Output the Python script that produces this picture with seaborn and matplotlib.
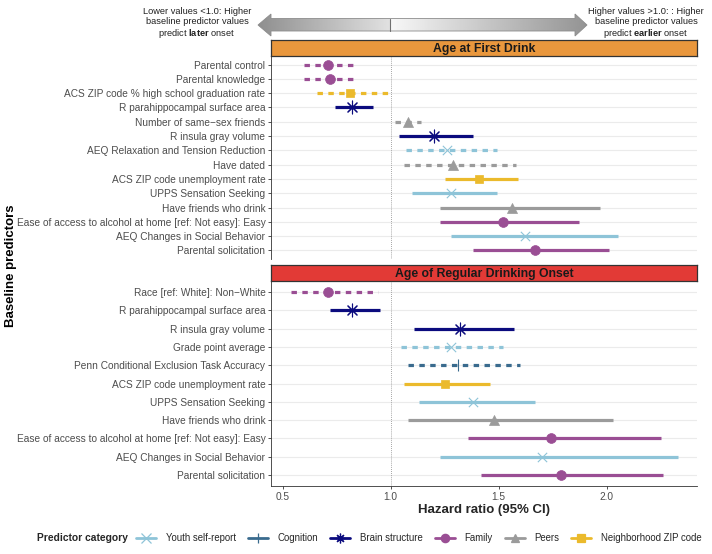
import numpy as np
import pandas as pd
import seaborn as sns
import matplotlib.pyplot as plt
from matplotlib.lines import Line2D
from matplotlib.patches import Polygon

# ---- data: hazard ratios ----
categories = ["Youth self-report", "Cognition", "Brain structure", "Family", "Peers", "Neighborhood ZIP code"]

# Age at First Drink
afd_predictors = [
    "Parental control", "Parental knowledge", "ACS ZIP code % high school graduation rate",
    "R parahippocampal surface area", "Number of same\u2212sex friends", "R insula gray volume",
    "AEQ Relaxation and Tension Reduction", "Have dated", "ACS ZIP code unemployment rate",
    "UPPS Sensation Seeking", "Have friends who drink",
    "Ease of access to alcohol at home [ref: Not easy]: Easy",
    "AEQ Changes in Social Behavior", "Parental solicitation",
]
afd_category = ["Family", "Family", "Neighborhood ZIP code", "Brain structure", "Peers", "Brain structure",
                "Youth self-report", "Peers", "Neighborhood ZIP code", "Youth self-report", "Peers",
                "Family", "Youth self-report", "Family"]
afd_hr = [0.71, 0.72, 0.81, 0.82, 1.08, 1.20, 1.26, 1.29, 1.41, 1.28, 1.56, 1.52, 1.62, 1.67]
afd_lo = [0.60, 0.60, 0.66, 0.74, 1.02, 1.04, 1.07, 1.06, 1.25, 1.10, 1.23, 1.23, 1.28, 1.38]
afd_hi = [0.85, 0.85, 0.99, 0.92, 1.14, 1.38, 1.49, 1.58, 1.59, 1.49, 1.97, 1.87, 2.05, 2.01]
afd_dashed = [True, True, True, False, True, False, True, True, False, False, False, False, False, False]

# Age of Regular Drinking Onset
ard_predictors = [
    "Race [ref: White]: Non\u2212White", "R parahippocampal surface area", "R insula gray volume",
    "Grade point average", "Penn Conditional Exclusion Task Accuracy", "ACS ZIP code unemployment rate",
    "UPPS Sensation Seeking", "Have friends who drink",
    "Ease of access to alcohol at home [ref: Not easy]: Easy",
    "AEQ Changes in Social Behavior", "Parental solicitation",
]
ard_category = ["Family", "Brain structure", "Brain structure", "Youth self-report", "Cognition",
                "Neighborhood ZIP code", "Youth self-report", "Peers", "Family", "Youth self-report", "Family"]
ard_hr = [0.71, 0.82, 1.32, 1.28, 1.31, 1.25, 1.38, 1.48, 1.74, 1.70, 1.79]
ard_lo = [0.54, 0.72, 1.11, 1.05, 1.08, 1.06, 1.13, 1.08, 1.36, 1.23, 1.42]
ard_hi = [0.94, 0.95, 1.57, 1.52, 1.60, 1.46, 1.67, 2.03, 2.25, 2.33, 2.26]
ard_dashed = [True, False, False, True, True, False, False, False, False, False, False]

palette = {"Youth self-report": "#8EC4D8", "Cognition": "#3A6B8E", "Brain structure": "#0B0B7E",
           "Family": "#9A4E94", "Peers": "#9B9B9B", "Neighborhood ZIP code": "#EBBA2C"}
markers = {"Youth self-report": "x", "Cognition": "|", "Brain structure": (8, 2, 0),
           "Family": "o", "Peers": "^", "Neighborhood ZIP code": "s"}
msize = {"Youth self-report": 45, "Cognition": 70, "Brain structure": 85,
         "Family": 50, "Peers": 52, "Neighborhood ZIP code": 40}

sns.set_theme(style="white")
plt.rcParams['font.family'] = ['Liberation Sans', 'DejaVu Sans']
plt.rcParams['mathtext.fontset'] = 'custom'
plt.rcParams['mathtext.rm'] = 'Liberation Sans'
plt.rcParams['mathtext.bf'] = 'Liberation Sans:bold'

W, H = 712, 554
fig = plt.figure(figsize=(W / 100, H / 100), dpi=100)

def px_box(left, top, right, bottom):
    return [left / W, 1 - bottom / H, (right - left) / W, (bottom - top) / H]


def draw_panel(ax, df):
    n = len(df)
    df = df.assign(pos=np.arange(n))
    for y in df["pos"]:
        ax.axhline(y, color="#EBEBEB", lw=0.8, zorder=0)
    ax.axvline(1.0, color="#888888", lw=0.6, ls=(0, (1, 1.5)), zorder=1)
    for _, r in df.iterrows():
        ax.hlines(r["pos"], r["lo"], r["hi"], color=palette[r["category"]], lw=2.3,
                  linestyles=(0, (1.7, 1.7)) if r["dashed"] else "solid", zorder=2)
    for cat in categories:
        sub = df[df["category"] == cat]
        if sub.empty:
            continue
        m = markers[cat]
        if cat in ("Youth self-report", "Brain structure", "Cognition"):
            kw = dict(linewidth=0.8)
        else:
            kw = dict(edgecolor=palette[cat], linewidth=0.5)
        sns.scatterplot(data=sub, x="hr", y="pos", ax=ax, marker=m, color=palette[cat],
                        s=msize[cat], zorder=3, legend=False, **kw)
    ax.set_ylim(n - 0.4, -0.6)
    ax.set_xlim(0.446, 2.418)
    ax.set_yticks(df["pos"])
    ax.set_yticklabels(df["predictor"])
    ax.set_ylabel("")
    ax.set_xlabel("")
    for s in ["top", "right", "bottom"]:
        ax.spines[s].set_visible(False)
    ax.spines["left"].set_color("#333333")
    ax.spines["left"].set_linewidth(0.6)
    ax.tick_params(axis="y", left=True, length=2.5, width=0.6, color="#333333", pad=1.5,
                   labelsize=7.3, labelcolor="#4D4D4D")


def draw_strip(box, color, label):
    sa = fig.add_axes(box)
    sa.set_facecolor(color)
    sa.set_xticks([])
    sa.set_yticks([])
    for s in sa.spines.values():
        s.set_color("#333333")
        s.set_linewidth(0.9)
    sa.text(0.5, 0.45, label, ha="center", va="center", fontsize=8.8, fontweight="bold",
            color="#1A1A1A", transform=sa.transAxes)


df1 = pd.DataFrame({"predictor": afd_predictors, "category": afd_category, "hr": afd_hr,
                    "lo": afd_lo, "hi": afd_hi, "dashed": afd_dashed})
df2 = pd.DataFrame({"predictor": ard_predictors, "category": ard_category, "hr": ard_hr,
                    "lo": ard_lo, "hi": ard_hi, "dashed": ard_dashed})

ax1 = fig.add_axes(px_box(271, 56, 697, 259))
ax2 = fig.add_axes(px_box(271, 281, 697, 486))
draw_panel(ax1, df1)
draw_panel(ax2, df2)
ax1.set_xticks([])
ax2.spines["bottom"].set_visible(True)
ax2.spines["bottom"].set_color("#333333")
ax2.spines["bottom"].set_linewidth(0.6)
ax2.set_xticks([0.5, 1.0, 1.5, 2.0])
ax2.set_xticklabels(["0.5", "1.0", "1.5", "2.0"])
ax2.tick_params(axis="x", bottom=True, length=2.5, width=0.6, color="#333333", pad=1.5,
                labelsize=7.3, labelcolor="#4D4D4D")
ax2.set_xlabel("Hazard ratio (95% CI)", fontsize=9.5, fontweight="bold", labelpad=2)

draw_strip(px_box(271, 40, 697, 56), "#E9973D", "Age at First Drink")
draw_strip(px_box(271, 265, 697, 281), "#E23A36", "Age of Regular Drinking Onset")

# overlay in pixel coordinates for the direction arrow, y label and legend title
ov = fig.add_axes([0, 0, 1, 1], zorder=-1)
ov.set_xlim(0, W)
ov.set_ylim(H, 0)
ov.axis("off")

arrow_pts = [(258, 25), (271, 14), (271, 18.5), (575, 18.5), (575, 14), (587, 25),
             (575, 36), (575, 31), (271, 31), (271, 36)]
poly = Polygon(arrow_pts, closed=True, facecolor="none", edgecolor="#8C8C8C", lw=0.6)
ov.add_patch(poly)
shade = np.concatenate([np.linspace(0.56, 0.88, 132), np.linspace(0.97, 0.58, 197)])
img = ov.imshow(shade[np.newaxis, :], cmap="gray", vmin=0, vmax=1, extent=(258, 587, 36, 14),
                aspect="auto", interpolation="bilinear")
img.set_clip_path(poly)
ov.plot([390, 390], [18.5, 31], color="#707070", lw=0.8)
ov.set_xlim(0, W)
ov.set_ylim(H, 0)

left_lines = ["Lower values <1.0: Higher", "baseline predictor values", r"predict $\mathbf{later}$ onset"]
right_lines = ["Higher values >1.0: : Higher", "baseline predictor values", r"predict $\mathbf{earlier}$ onset"]
for i, (lt, rt) in enumerate(zip(left_lines, right_lines)):
    ov.text(197, 11 + 11 * i, lt, ha="center", va="center", fontsize=6.7, color="#222222")
    ov.text(646, 11 + 11 * i, rt, ha="center", va="center", fontsize=6.7, color="#222222")

ov.text(11, 266, "Baseline predictors", rotation=90, ha="center", va="center",
        fontsize=9.5, fontweight="bold", color="black")

ov.text(37, 538, "Predictor category", ha="left", va="center", fontsize=7.4, fontweight="bold")
handles = []
for cat in categories:
    m = markers[cat]
    filled = cat in ("Family", "Peers", "Neighborhood ZIP code")
    handles.append(Line2D([], [], color=palette[cat], lw=2.0, marker=m,
                          markersize=6 if filled else 7, markeredgewidth=0.9,
                          markerfacecolor=palette[cat], markeredgecolor=palette[cat]))
fig.legend(handles, categories, loc="center left", bbox_to_anchor=(136 / W, 1 - 538 / H),
           ncol=6, frameon=False, fontsize=6.9, handlelength=2.1, handletextpad=1.0,
           columnspacing=1.25, borderpad=0, borderaxespad=0)

fig.savefig("out.png", dpi=100)
